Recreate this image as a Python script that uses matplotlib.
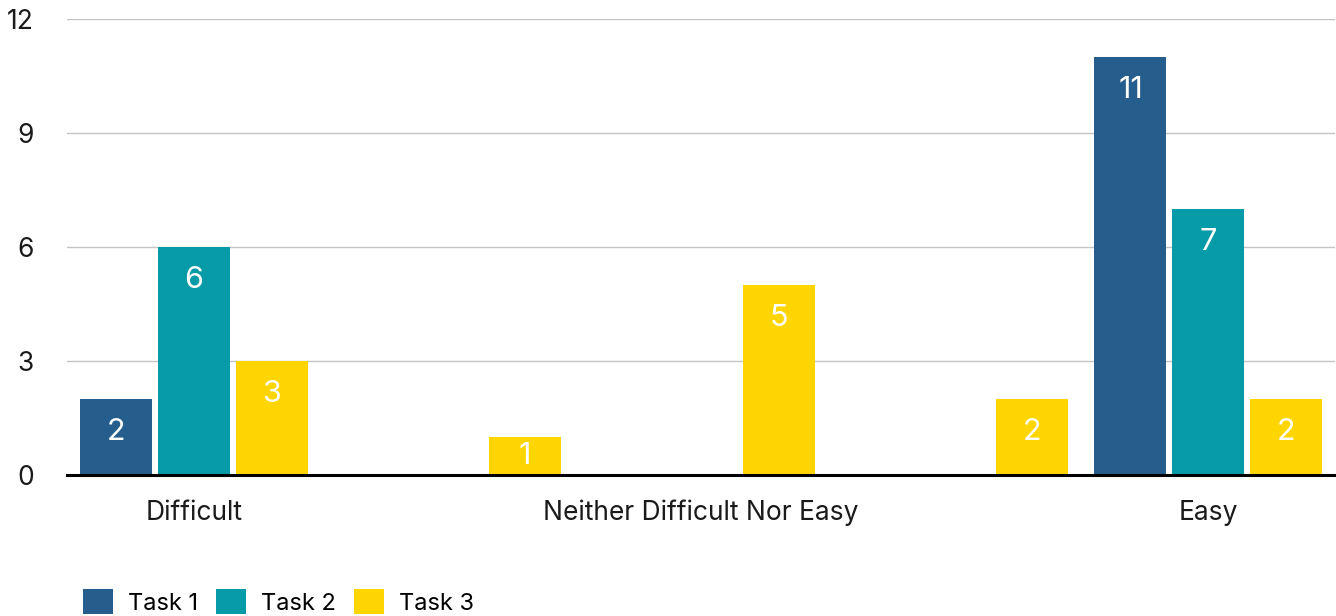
import matplotlib
matplotlib.use("Agg")
import matplotlib.pyplot as plt
import numpy as np

# Survey responses: how difficult each task was
categories = ["Difficult", "", "Neither Difficult Nor Easy", "", "Easy"]
series = ["Task 1", "Task 2", "Task 3"]
task1 = [2, 0, 0, 0, 11]
task2 = [6, 0, 0, 0, 7]
task3 = [3, 1, 5, 2, 2]
y_ticks = [0, 3, 6, 9, 12]

colors = ["#255E8D", "#079AA7", "#FFD500"]

plt.rcParams["font.family"] = ["Inter", "DejaVu Sans"]

fig = plt.figure(figsize=(13.36, 6.16), dpi=100)
ax = fig.add_axes([0.0503, 0.2289, 0.9488, 0.7403])

x = np.arange(len(categories))
step = 0.306
width = 0.284
for i, (name, vals, col) in enumerate(zip(series, [task1, task2, task3], colors)):
    pos = x + (i - 1) * step
    bars = ax.bar(pos, vals, width=width, color=col, label=name, zorder=3)
    for b, v in zip(bars, vals):
        if v:
            # value sits just inside the top of the bar, centred for short bars
            ypos = v - min(0.88, v / 2)
            ax.text(b.get_x() + b.get_width() / 2, ypos, str(v),
                    ha="center", va="center", color="white",
                    fontsize=22, zorder=4)

ax.set_xlim(-0.5, len(categories) - 0.5)
ax.set_ylim(0, 12)
ax.set_yticks(y_ticks)
ax.set_yticklabels([str(t) for t in y_ticks], fontsize=19)
ax.set_xticks(x)
ax.set_xticklabels(categories, fontsize=19)
ax.tick_params(axis="both", length=0, colors="#1a1a1a")
ax.tick_params(axis="y", pad=24)
ax.tick_params(axis="x", pad=18)

ax.grid(axis="y", color="#c4c4c4", linewidth=1.0, zorder=0)
ax.set_axisbelow(True)
for s in ["top", "right", "left"]:
    ax.spines[s].set_visible(False)
ax.spines["bottom"].set_color("black")
ax.spines["bottom"].set_linewidth(2.2)
ax.spines["bottom"].set_zorder(5)

fig.legend(loc="upper left", bbox_to_anchor=(0.0621, 0.0438), ncol=3,
           frameon=False, fontsize=17, handlelength=1.27, handleheight=1.27,
           handletextpad=0.64, columnspacing=0.76, borderaxespad=0,
           borderpad=0)

fig.savefig("out.png", dpi=100)
